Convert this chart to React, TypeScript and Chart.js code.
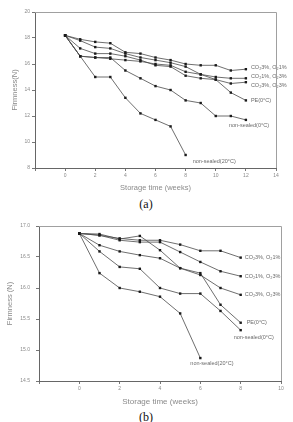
import React, { useEffect, useRef } from "react";
import { Chart, registerables } from "chart.js";

Chart.register(...registerables);

// ---------- Panel (a): weekly firmness over 12 weeks ----------
const weeksA = [0, 1, 2, 3, 4, 5, 6, 7, 8, 9, 10, 11, 12];
const weeksA20 = [0, 1, 2, 3, 4, 5, 6, 7, 8];
const aCo2_3_O2_1 = [18.2, 17.9, 17.7, 17.6, 16.9, 16.8, 16.5, 16.3, 16.0, 15.9, 15.9, 15.5, 15.6];
const aCo2_1_O2_3 = [18.2, 17.8, 17.3, 17.2, 16.8, 16.5, 16.3, 16.1, 15.8, 15.2, 15.0, 14.9, 14.9];
const aCo2_3_O2_3 = [18.2, 17.2, 16.8, 16.8, 16.6, 16.3, 15.9, 15.8, 15.1, 14.9, 14.8, 14.5, 14.6];
const aPe0 = [18.2, 16.6, 16.5, 16.4, 16.3, 16.2, 16.0, 15.9, 15.4, 15.2, 14.8, 13.8, 13.2];
const aNonSealed0 = [18.2, 16.6, 16.5, 16.5, 15.5, 14.9, 14.3, 14.0, 13.2, 13.0, 12.0, 12.0, 11.7];
const aNonSealed20 = [18.2, 16.6, 15.0, 15.0, 13.4, 12.2, 11.7, 11.2, 9.0];

// ---------- Panel (b): weekly firmness over 8 weeks ----------
const weeksB = [0, 1, 2, 3, 4, 5, 6, 7, 8];
const weeksB20 = [0, 1, 2, 3, 4, 5, 6];
const bCo2_3_O2_1 = [16.88, 16.85, 16.80, 16.77, 16.77, 16.70, 16.60, 16.60, 16.49];
const bCo2_1_O2_3 = [16.88, 16.85, 16.77, 16.74, 16.74, 16.58, 16.42, 16.27, 16.19];
const bCo2_3_O2_3 = [16.88, 16.69, 16.59, 16.53, 16.48, 16.32, 16.21, 16.00, 15.89];
const bPe0 = [16.88, 16.87, 16.79, 16.84, 16.61, 16.32, 16.24, 15.73, 15.44];
const bNonSealed0 = [16.88, 16.59, 16.34, 16.31, 16.0, 15.91, 15.91, 15.63, 15.32];
const bNonSealed20 = [16.88, 16.24, 16.0, 15.94, 15.86, 15.59, 14.87];

const seriesNames = [
  "CO₂3%, O₂1%",
  "CO₂1%, O₂3%",
  "CO₂3%, O₂3%",
  "PE(0°C)",
  "non-sealed(0°C)",
  "non-sealed(20°C)",
];

// Axis tick settings
const xTicksA = { min: -2, max: 14, step: 2 };
const yTicksA = { min: 8, max: 20, step: 2 };
const xTicksB = { min: -2, max: 10, step: 2 };
const yTicksB = { min: 14.5, max: 17, step: 0.5 };

type Offset = { dx: number; dy: number };

const SANS = '"Liberation Sans", Arial, sans-serif';

const framePlugin = {
  id: "frame",
  afterDraw(chart: any) {
    const { ctx, chartArea } = chart;
    const { left, top, right, bottom } = chartArea;
    ctx.save();
    ctx.strokeStyle = "#a0a0a0";
    ctx.lineWidth = 1;
    ctx.beginPath();
    ctx.moveTo(left, Math.round(top) + 0.5);
    ctx.lineTo(Math.round(right) + 0.5, Math.round(top) + 0.5);
    ctx.lineTo(Math.round(right) + 0.5, bottom);
    ctx.stroke();
    ctx.restore();
  },
};

function endLabels(offsets: Offset[], size: number) {
  return {
    id: "endLabels",
    afterDatasetsDraw(chart: any) {
      const ctx = chart.ctx;
      ctx.save();
      ctx.font = `${size}px ${SANS}`;
      ctx.fillStyle = "#6a6a6a";
      ctx.textBaseline = "middle";
      ctx.textAlign = "left";
      chart.data.datasets.forEach((ds: any, i: number) => {
        const meta = chart.getDatasetMeta(i);
        const last = meta.data[meta.data.length - 1];
        const o = offsets[i];
        ctx.fillText(ds.label, last.x + o.dx, last.y + o.dy);
      });
      ctx.restore();
    },
  };
}

function toPoints(xs: number[], ys: number[]) {
  return xs.map((x, i) => ({ x, y: ys[i] }));
}

type PanelSpec = {
  width: number;
  height: number;
  padTop: number;
  padRight: number;
  yAxisWidth: number;
  xAxisHeight: number;
  xTitlePad: number;
  yTitlePad: number;
  xTitleSize: number;
  yTitle: string;
  xr: { min: number; max: number; step: number };
  yr: { min: number; max: number; step: number };
  yDecimals: number;
  yTickPad: number;
  series: { x: number[]; y: number[] }[];
  offsets: Offset[];
};

function buildConfig(p: PanelSpec): any {
  return {
    type: "line",
    data: {
      datasets: p.series.map((s, i) => ({
        label: seriesNames[i],
        data: toPoints(s.x, s.y),
        borderColor: "#4a4a4a",
        borderWidth: 0.8,
        pointStyle: "rect",
        pointRadius: 1.7,
        pointBackgroundColor: "#1a1a1a",
        pointBorderWidth: 0,
        tension: 0,
        fill: false,
      })),
    },
    options: {
      animation: false,
      responsive: false,
      devicePixelRatio: 1,
      events: [],
      layout: { padding: { top: p.padTop, right: p.padRight, left: 0, bottom: 0 } },
      plugins: { legend: { display: false }, tooltip: { enabled: false } },
      scales: {
        x: {
          type: "linear",
          min: p.xr.min,
          max: p.xr.max,
          afterFit(scale: any) {
            scale.height = p.xAxisHeight;
          },
          ticks: {
            stepSize: p.xr.step,
            autoSkip: false,
            maxRotation: 0,
            padding: 2,
            color: "#8a8a8a",
            font: { family: SANS, size: 5 },
            callback: (v: number) => (v < 0 ? "" : String(v)),
          },
          grid: { drawOnChartArea: false, tickLength: 3, color: "#777" },
          border: { color: "#666", width: 1 },
          title: {
            display: true,
            text: "Storage time (weeks)",
            color: "#8a8a8a",
            font: { family: SANS, size: p.xTitleSize },
            padding: { top: 0, bottom: p.xTitlePad },
          },
        },
        y: {
          type: "linear",
          min: p.yr.min,
          max: p.yr.max,
          afterFit(scale: any) {
            scale.width = p.yAxisWidth;
          },
          ticks: {
            stepSize: p.yr.step,
            autoSkip: false,
            padding: p.yTickPad,
            color: "#8a8a8a",
            font: { family: SANS, size: 5 },
            callback: (v: number) => Number(v).toFixed(p.yDecimals),
          },
          grid: { drawOnChartArea: false, tickLength: 3, color: "#777" },
          border: { color: "#666", width: 1 },
          title: {
            display: true,
            text: p.yTitle,
            color: "#8a8a8a",
            font: { family: SANS, size: 7.5 },
            padding: { top: p.yTitlePad, bottom: 0 },
          },
        },
      },
    },
    plugins: [framePlugin, endLabels(p.offsets, 5.5)],
  };
}

const panelA: PanelSpec = {
  width: 293,
  height: 194,
  padTop: 12,
  padRight: 17,
  yAxisWidth: 35,
  xAxisHeight: 26,
  xTitlePad: 1.5,
  yTitlePad: 10.5,
  xTitleSize: 7.5,
  yTitle: "Firmness(N)",
  xr: xTicksA,
  yr: yTicksA,
  yDecimals: 0,
  yTickPad: 2,
  series: [
    { x: weeksA, y: aCo2_3_O2_1 },
    { x: weeksA, y: aCo2_1_O2_3 },
    { x: weeksA, y: aCo2_3_O2_3 },
    { x: weeksA, y: aPe0 },
    { x: weeksA, y: aNonSealed0 },
    { x: weeksA20, y: aNonSealed20 },
  ],
  offsets: [
    { dx: 5, dy: -2 },
    { dx: 5, dy: -2 },
    { dx: 5, dy: 3 },
    { dx: 5, dy: 0 },
    { dx: -17, dy: 6 },
    { dx: 7, dy: 6 },
  ],
};

const panelB: PanelSpec = {
  width: 293,
  height: 195,
  padTop: 11,
  padRight: 12,
  yAxisWidth: 39,
  xAxisHeight: 29,
  xTitlePad: 3.2,
  yTitlePad: 5.5,
  xTitleSize: 8,
  yTitle: "Firmness (N)",
  xr: xTicksB,
  yr: yTicksB,
  yDecimals: 1,
  yTickPad: 6,
  series: [
    { x: weeksB, y: bCo2_3_O2_1 },
    { x: weeksB, y: bCo2_1_O2_3 },
    { x: weeksB, y: bCo2_3_O2_3 },
    { x: weeksB, y: bPe0 },
    { x: weeksB, y: bNonSealed0 },
    { x: weeksB20, y: bNonSealed20 },
  ],
  offsets: [
    { dx: 4, dy: 0 },
    { dx: 4, dy: 0 },
    { dx: 4, dy: 0 },
    { dx: 6, dy: 0 },
    { dx: -7, dy: 7 },
    { dx: -10, dy: 5 },
  ],
};

function Panel({ spec, top }: { spec: PanelSpec; top: number }) {
  const ref = useRef<HTMLCanvasElement | null>(null);
  useEffect(() => {
    if (!ref.current) return;
    const chart = new Chart(ref.current, buildConfig(spec));
    return () => chart.destroy();
  }, [spec]);
  return (
    <canvas
      ref={ref}
      width={spec.width}
      height={spec.height}
      style={{ position: "absolute", left: 0, top, width: spec.width, height: spec.height }}
    />
  );
}

const captionStyle: React.CSSProperties = {
  position: "absolute",
  left: 0,
  width: 292,
  textAlign: "center",
  fontFamily: '"Liberation Serif", "Times New Roman", serif',
  fontSize: 12,
  lineHeight: "12px",
  color: "#111",
};

export default function App() {
  return (
    <div
      style={{
        position: "fixed",
        left: 0,
        top: 0,
        width: 293,
        height: 422,
        background: "#fff",
        overflow: "hidden",
      }}
    >
      <Panel spec={panelA} top={0} />
      <div style={{ ...captionStyle, top: 198 }}>(a)</div>
      <Panel spec={panelB} top={215} />
      <div style={{ ...captionStyle, top: 411 }}>(b)</div>
    </div>
  );
}
